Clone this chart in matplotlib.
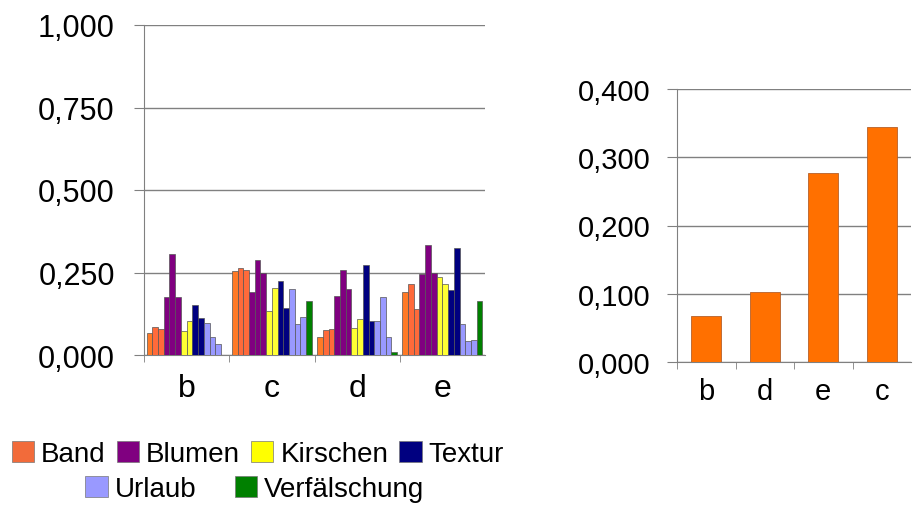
import numpy as np
import matplotlib
matplotlib.use('Agg')
import matplotlib.pyplot as plt
from matplotlib.ticker import FuncFormatter

plt.rcParams['font.family'] = ['Liberation Sans', 'DejaVu Sans']

# left chart: 4 groups, each with several bars per category
groups = ['b', 'c', 'd', 'e']
band = [[0.066, 0.084, 0.079], [0.254, 0.264, 0.258], [0.055, 0.076, 0.079], [0.190, 0.215, 0.140]]
blumen = [[0.176, 0.307, 0.176], [0.190, 0.288, 0.248], [0.179, 0.257, 0.200], [0.246, 0.332, 0.248]]
kirschen = [[0.074, 0.104], [0.134, 0.203], [0.083, 0.109], [0.236, 0.214]]
textur = [[0.153, 0.111], [0.223, 0.141], [0.273, 0.103], [0.197, 0.325]]
urlaub = [[0.096, 0.055, 0.033], [0.200, 0.094, 0.116], [0.103, 0.177, 0.056], [0.094, 0.043, 0.045]]
verfaelschung = [[0.0], [0.165], [0.008], [0.165]]

# right chart
right_cats = ['b', 'd', 'e', 'c']
right_vals = [0.067, 0.103, 0.277, 0.345]

series = [
    ('Band', band, ['#ff7a26', '#ff6a3a', '#ff6a3a']),
    ('Blumen', blumen, ['#800080'] * 3),
    ('Kirschen', kirschen, ['#ffff33'] * 2),
    ('Textur', textur, ['#000080'] * 2),
    ('Urlaub', urlaub, ['#9999ff'] * 3),
    ('Verfälschung', verfaelschung, ['#008000']),
]
legend_cols = {'Band': '#f26b3a', 'Blumen': '#800080', 'Kirschen': '#ffff00',
               'Textur': '#000080', 'Urlaub': '#9999ff', 'Verfälschung': '#008000'}

fmt = FuncFormatter(lambda v, p: '{0:.3f}'.format(v).replace('.', ','))
grid_c = '#808080'

fig = plt.figure(figsize=(9.13, 5.06), dpi=100)

# ---- left chart
ax = fig.add_axes([144/913, 1-356/506, 341/913, 330/506])
nbars = sum(len(s[1][0]) for s in series)
span = 0.94
w = span / nbars
handles = {}
for gi in range(len(groups)):
    k = 0
    for name, data, cols in series:
        for j, v in enumerate(data[gi]):
            x = gi - span/2 + (k + 0.5) * w
            ax.bar(x, v, width=w, color=cols[j], edgecolor='#555555', linewidth=0.5, zorder=3)
            k += 1
for name in legend_cols:
    handles[name] = plt.Rectangle((0, 0), 1, 1, facecolor=legend_cols[name], edgecolor='#777777', linewidth=0.5)

ax.set_xlim(-0.5, len(groups) - 0.5)
ax.set_ylim(0, 1.0)
ax.set_yticks([0, 0.25, 0.5, 0.75, 1.0])
ax.yaxis.set_major_formatter(fmt)
ax.set_xticks(range(len(groups)))
ax.set_xticklabels(groups)
ax.set_xticks(np.arange(-0.5, len(groups) - 0.5, 1), minor=True)
ax.tick_params(axis='x', which='major', length=0, pad=13, labelsize=23)
ax.tick_params(axis='x', which='minor', length=5, color=grid_c)
ax.tick_params(axis='y', length=7, color=grid_c, pad=14, labelsize=22)
ax.yaxis.grid(True, color=grid_c, linewidth=1.0, zorder=0)
for s in ['top', 'right']:
    ax.spines[s].set_visible(False)
for s in ['left', 'bottom']:
    ax.spines[s].set_color(grid_c)

# ---- right chart
ax2 = fig.add_axes([677/913, 1-363/506, 234/913, 273/506])
xr = np.arange(len(right_cats))
ax2.bar(xr, right_vals, width=0.52, color='#ff7000', edgecolor='#b5602a', linewidth=0.6, zorder=3)
ax2.set_xlim(-0.5, len(right_cats) - 0.5)
ax2.set_ylim(0, 0.4)
ax2.set_yticks([0, 0.1, 0.2, 0.3, 0.4])
ax2.yaxis.set_major_formatter(fmt)
ax2.set_xticks(xr)
ax2.set_xticklabels(right_cats)
ax2.set_xticks(np.arange(-0.5, len(right_cats) - 0.5, 1), minor=True)
ax2.tick_params(axis='x', which='major', length=0, pad=11, labelsize=21)
ax2.tick_params(axis='x', which='minor', length=5, color=grid_c)
ax2.tick_params(axis='y', length=7, color=grid_c, pad=12, labelsize=21)
ax2.yaxis.grid(True, color=grid_c, linewidth=1.0, zorder=0)
for s in ['top', 'right']:
    ax2.spines[s].set_visible(False)
for s in ['left', 'bottom']:
    ax2.spines[s].set_color(grid_c)

# ---- legend in two rows
row1 = ['Band', 'Blumen', 'Kirschen', 'Textur']
row2 = ['Urlaub', 'Verfälschung']
fig.legend([handles[n] for n in row1], row1, loc='center', ncol=4,
           bbox_to_anchor=(258/913, 1-455/506), frameon=False, fontsize=20,
           handlelength=0.8, handleheight=0.8, handletextpad=0.25,
           columnspacing=0.4, borderpad=0, borderaxespad=0)
fig.legend([handles[n] for n in row2], row2, loc='center', ncol=2,
           bbox_to_anchor=(255/913, 1-490/506), frameon=False, fontsize=20,
           handlelength=0.8, handleheight=0.8, handletextpad=0.25,
           columnspacing=1.4, borderpad=0, borderaxespad=0)

plt.savefig('out.png', format='png', dpi=100)
